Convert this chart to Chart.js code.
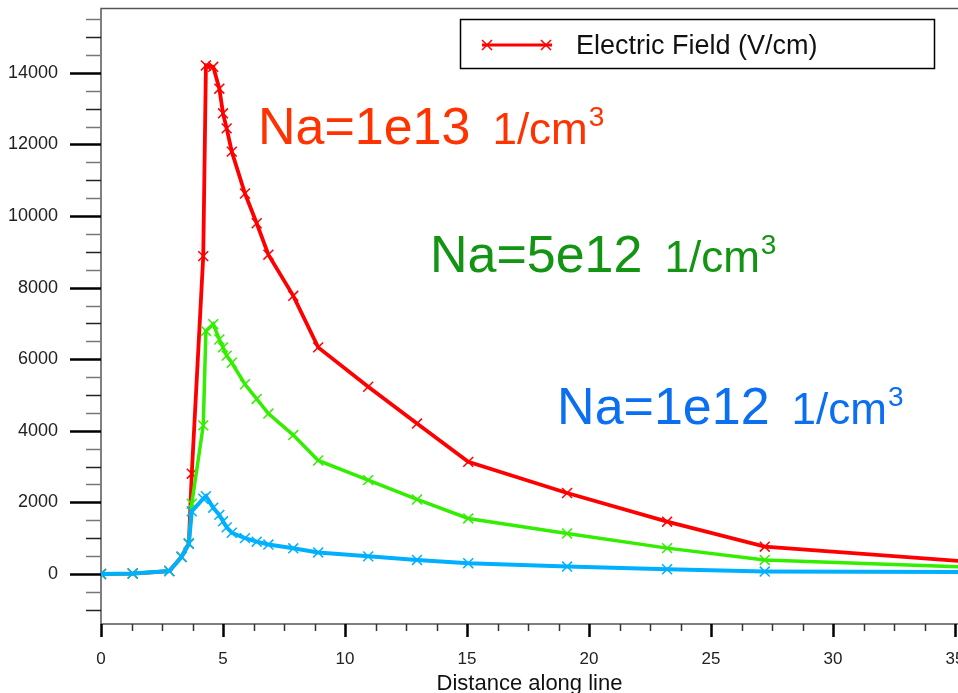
<!DOCTYPE html>
<html lang="en">
<head>
<meta charset="UTF-8">
<title>Electric Field along line</title>
<script src="https://cdn.jsdelivr.net/npm/chart.js"></script>
<style>
  html, body { margin: 0; padding: 0; overflow: hidden; background: #fff; }
  .wrap { width: 990px; height: 693px; position: relative; }
</style>
</head>
<body>
<div class="wrap"><canvas id="fieldChart"></canvas></div>
<script>
// distance along line, shared mesh for the three runs
const distance = [0, 1.3, 2.8, 3.3, 3.6, 3.72, 4.19, 4.3, 4.6, 4.85, 5.0, 5.15, 5.36,
                  5.9, 6.38, 6.86, 7.88, 8.9, 10.95, 12.95, 15.05, 19.1, 23.2, 27.2, 36];
// electric field (V/cm)
const fieldNa1e13 = [0, 10, 80, 480, 850, 2800, 8880, 14210, 14170, 13560, 12870, 12450, 11800,
                     10630, 9800, 8920, 7770, 6330, 5230, 4200, 3130, 2260, 1460, 760, 320];
const fieldNa5e12 = [0, 10, 80, 480, 850, 1960, 4150, 6790, 6980, 6550, 6330, 6100, 5900,
                     5300, 4890, 4480, 3880, 3170, 2620, 2080, 1550, 1130, 720, 390, 180];
const fieldNa1e12 = [0, 10, 80, 470, 840, 1750, 2100, 2170, 1850, 1650, 1470, 1300, 1150,
                     1000, 900, 820, 715, 600, 490, 390, 300, 205, 130, 65, 48];

const xTickValues = [0, 5, 10, 15, 20, 25, 30, 35];
const yTickValues = [0, 2000, 4000, 6000, 8000, 10000, 12000, 14000];
const legendLabel = 'Electric Field (V/cm)';
const runLabels = ['Na=1e13', 'Na=5e12', 'Na=1e12'];
const unitText = '1/cm';
const unitSup = '3';

const FONT = "'Liberation Sans', Arial, sans-serif";

function toPoints(ys) {
    return distance.map((x, i) => ({ x: x, y: ys[i] }));
}

function series(label, ys, color, width) {
    return {
        label: label,
        data: toPoints(ys),
        borderColor: color,
        borderWidth: width,
        pointStyle: 'crossRot',
        pointRadius: 7,
        pointBorderWidth: 1.5,
        pointBorderColor: color,
        pointBackgroundColor: color,
        tension: 0,
        fill: false
    };
}

function drawRunLabel(ctx, px, py, text, color) {
    ctx.fillStyle = color;
    ctx.textAlign = 'left';
    ctx.textBaseline = 'alphabetic';
    ctx.font = '52px ' + FONT;
    ctx.fillText(text, px, py);
    let cx = px + ctx.measureText(text).width + 22;
    ctx.font = '44px ' + FONT;
    ctx.fillText(unitText, cx, py);
    cx += ctx.measureText(unitText).width + 1;
    ctx.font = '28px ' + FONT;
    ctx.fillText(unitSup, cx, py - 18);
}

const framePlugin = {
    id: 'frame',
    beforeDatasetsDraw(chart) {
        const { ctx, chartArea: a, scales: { x, y } } = chart;
        ctx.save();
        ctx.strokeStyle = '#555';
        ctx.lineWidth = 1.5;
        ctx.beginPath();
        ctx.moveTo(a.right, a.top);
        ctx.lineTo(a.left, a.top);
        ctx.lineTo(a.left, a.bottom);
        ctx.lineTo(a.right, a.bottom);
        ctx.stroke();

        // y tick marks, minor every 500
        for (let v = Math.ceil(y.min / 500) * 500; v <= y.max; v += 500) {
            const py = Math.round(y.getPixelForValue(v)) + 0.5;
            const major = v % 2000 === 0;
            ctx.beginPath();
            ctx.strokeStyle = major ? '#000' : (v % 1000 === 0 ? '#222' : '#777');
            ctx.lineWidth = major ? 2.5 : 1.5;
            ctx.moveTo(a.left - (major ? 31 : 15), py);
            ctx.lineTo(a.left, py);
            ctx.stroke();
        }
        // x tick marks, minor every 1.25
        for (let v = 0; v <= x.max; v += 1.25) {
            const px = Math.round(x.getPixelForValue(v)) + 0.5;
            const major = Math.abs(v % 5) < 1e-6;
            ctx.beginPath();
            ctx.strokeStyle = major ? '#000' : '#333';
            ctx.lineWidth = major ? 2.5 : 1.5;
            ctx.moveTo(px, a.bottom);
            ctx.lineTo(px, a.bottom + (major ? 13 : 7));
            ctx.stroke();
        }
        ctx.restore();
    },
    afterDraw(chart) {
        const { ctx, scales: { x, y } } = chart;
        ctx.save();
        // legend box
        ctx.strokeStyle = '#000';
        ctx.lineWidth = 1.5;
        ctx.strokeRect(460.5, 19.5, 474, 49);
        ctx.strokeStyle = '#ff0000';
        ctx.lineWidth = 3;
        ctx.beginPath();
        ctx.moveTo(482, 45);
        ctx.lineTo(552, 45);
        ctx.stroke();
        ctx.lineWidth = 1.5;
        [487, 546].forEach(cx => {
            ctx.beginPath();
            ctx.moveTo(cx - 5, 40); ctx.lineTo(cx + 5, 50);
            ctx.moveTo(cx - 5, 50); ctx.lineTo(cx + 5, 40);
            ctx.stroke();
        });
        ctx.fillStyle = '#111';
        ctx.font = '27px ' + FONT;
        ctx.textBaseline = 'middle';
        ctx.fillText(legendLabel, 576, 47);

        // run labels
        drawRunLabel(ctx, x.getPixelForValue(6.43), y.getPixelForValue(12020), runLabels[0], '#ff3300');
        drawRunLabel(ctx, x.getPixelForValue(13.48), y.getPixelForValue(8430), runLabels[1], '#139413');
        drawRunLabel(ctx, x.getPixelForValue(18.69), y.getPixelForValue(4175), runLabels[2], '#0b6ff2');
        ctx.restore();
    }
};

var fieldChart = new Chart(document.getElementById('fieldChart'), {
    type: 'line',
    data: {
        datasets: [
            series(runLabels[2], fieldNa1e12, '#00b0ff', 4),
            series(runLabels[1], fieldNa5e12, '#33ee00', 3.5),
            series(runLabels[0], fieldNa1e13, '#ff0000', 3.8)
        ]
    },
    options: {
        responsive: true,
        maintainAspectRatio: false,
        animation: false,
        layout: { padding: { top: 7, right: 32, left: 0, bottom: 0 } },
        plugins: { legend: { display: false }, tooltip: { enabled: false } },
        scales: {
            x: {
                type: 'linear',
                min: 0,
                max: 35.12,
                grid: { display: false },
                border: { display: false },
                afterBuildTicks: s => { s.ticks = xTickValues.map(v => ({ value: v })); },
                afterFit: s => { s.height = 69; s.paddingLeft = 0; s.paddingRight = 0; },
                ticks: { padding: 17, maxRotation: 0, autoSkip: false, color: '#222',
                         font: { family: FONT, size: 17 }, callback: v => String(v) },
                title: { display: true, text: 'Distance along line', color: '#111',
                         font: { family: FONT, size: 22, lineHeight: 0.8 }, padding: { top: 0, bottom: 0 } }
            },
            y: {
                type: 'linear',
                min: -1400,
                max: 15800,
                grid: { display: false },
                border: { display: false },
                afterBuildTicks: s => { s.ticks = yTickValues.map(v => ({ value: v })); },
                afterFit: s => { s.width = 101; s.paddingTop = 0; s.paddingBottom = 0; },
                ticks: { padding: 35, autoSkip: false, color: '#222',
                         font: { family: FONT, size: 18 }, callback: v => String(v) }
            }
        }
    },
    plugins: [framePlugin]
});
</script>
</body>
</html>
